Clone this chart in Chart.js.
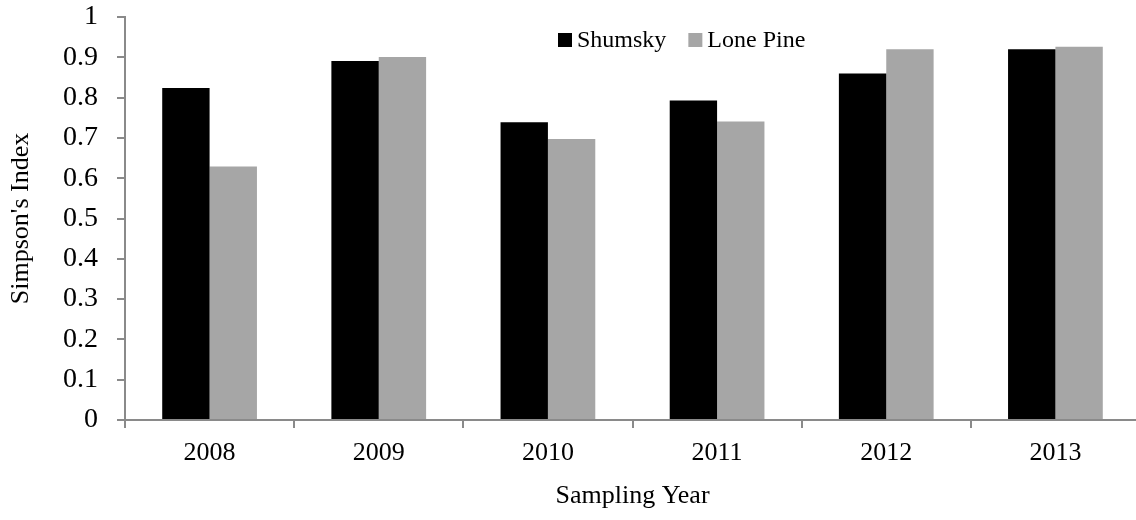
<!DOCTYPE html>
<html>
<head>
<meta charset="utf-8">
<script src="https://cdn.jsdelivr.net/npm/chart.js@4"></script>
<style>
  html, body { margin: 0; padding: 0; background: #fff; overflow: hidden; }
  #wrap { width: 1142px; height: 520px; }
</style>
</head>
<body>
<div id="wrap"><canvas id="c" width="1142" height="520"></canvas></div>
<script>
const categories = ['2008', '2009', '2010', '2011', '2012', '2013'];
const shumsky = [0.824, 0.891, 0.739, 0.793, 0.860, 0.920];
const lonePine = [0.629, 0.901, 0.697, 0.741, 0.920, 0.926];
const yTicks = [0, 0.1, 0.2, 0.3, 0.4, 0.5, 0.6, 0.7, 0.8, 0.9, 1];

const FONT = '"Liberation Serif", "Times New Roman", serif';
const AXIS = '#8a8a8a';

const legendPlugin = {
  id: 'insideLegend',
  afterDraw(chart) {
    const ctx = chart.ctx;
    ctx.save();
    ctx.font = '24px ' + FONT;
    ctx.textBaseline = 'middle';
    ctx.textAlign = 'left';
    let x = 558;
    const cy = 40;
    const box = 14;
    chart.data.datasets.forEach((ds, i) => {
      ctx.fillStyle = ds.backgroundColor;
      ctx.fillRect(x, cy - box / 2, box, box);
      x += box + 5;
      ctx.fillStyle = '#000';
      ctx.fillText(ds.label, x, cy + 1);
      x += ctx.measureText(ds.label).width + 22;
    });
    ctx.restore();
  }
};

new Chart(document.getElementById('c'), {
  type: 'bar',
  data: {
    labels: categories,
    datasets: [
      { label: 'Shumsky', data: shumsky, backgroundColor: '#000000', borderWidth: 0 },
      { label: 'Lone Pine', data: lonePine, backgroundColor: '#a6a6a6', borderWidth: 0 }
    ]
  },
  options: {
    responsive: false,
    animation: false,
    devicePixelRatio: 1,
    layout: { padding: { top: 17, right: 2, bottom: 0, left: 0 } },
    plugins: {
      legend: { display: false },
      tooltip: { enabled: false }
    },
    datasets: { bar: { categoryPercentage: 0.56, barPercentage: 1.0 } },
    scales: {
      x: {
        grid: { display: true, drawOnChartArea: false, drawTicks: true, tickLength: 8, color: AXIS, lineWidth: 2, offset: true },
        border: { display: true, color: AXIS, width: 2 },
        ticks: { color: '#000', font: { family: FONT, size: 26 }, padding: 10 },
        title: { display: true, text: 'Sampling Year', color: '#000', font: { family: FONT, size: 26 }, padding: { top: 0, bottom: 8 } },
        afterFit(scale) { scale.height = 100; scale.paddingLeft = 0; scale.paddingRight = 0; }
      },
      y: {
        min: 0,
        max: 1,
        afterBuildTicks(scale) { scale.ticks = yTicks.map(v => ({ value: v })); },
        grid: { display: true, drawOnChartArea: false, drawTicks: true, tickLength: 8, color: AXIS, lineWidth: 2 },
        border: { display: true, color: AXIS, width: 2 },
        ticks: {
          color: '#000',
          font: { family: FONT, size: 28 },
          padding: 19,
          callback(v) { return String(Math.round(v * 10) / 10); }
        },
        title: { display: true, text: "Simpson's Index", color: '#000', font: { family: FONT, size: 26 }, padding: { top: 6, bottom: 0 } },
        afterFit(scale) { scale.width = 125; scale.paddingTop = 0; scale.paddingBottom = 0; }
      }
    }
  },
  plugins: [legendPlugin]
});
</script>
</body>
</html>
